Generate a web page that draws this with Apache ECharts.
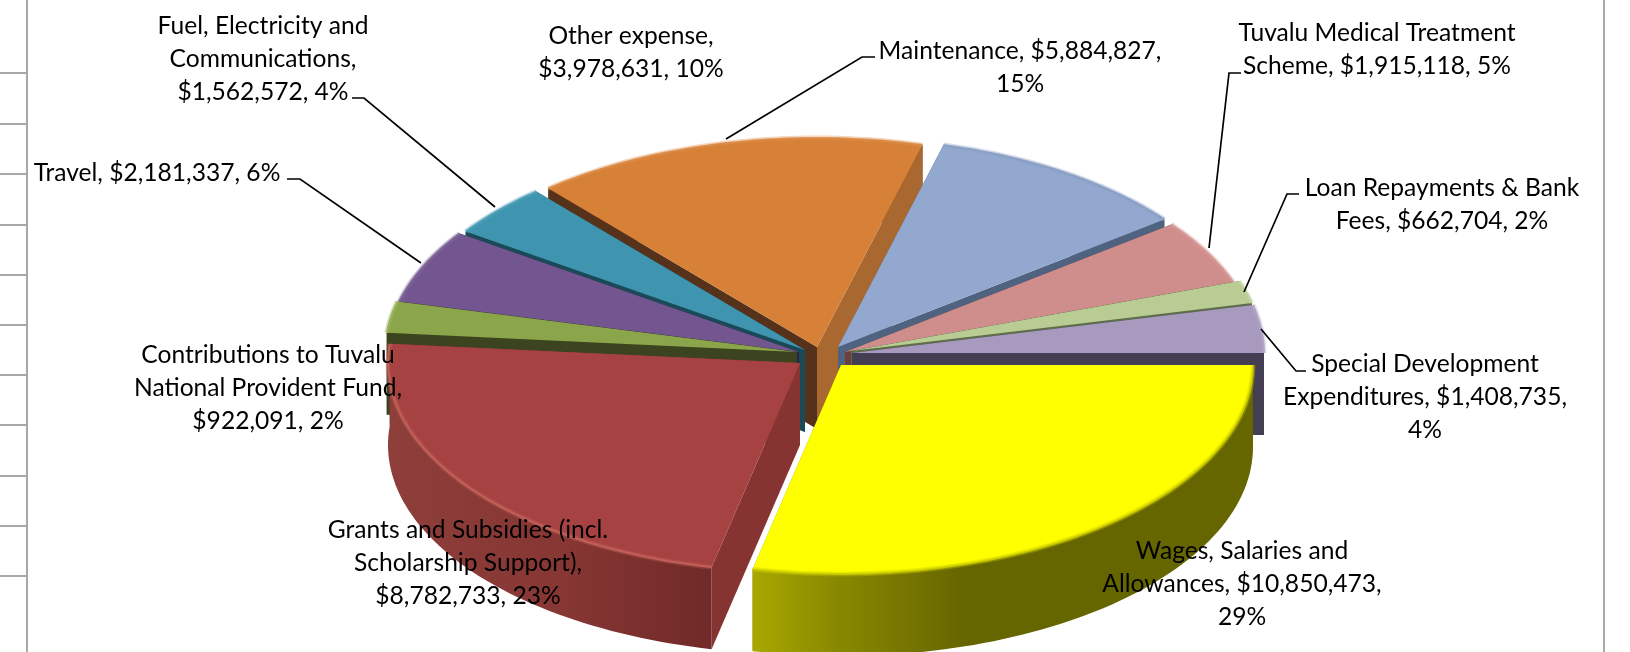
<!DOCTYPE html>
<html>
<head>
<meta charset="utf-8">
<style>html,body{margin:0;padding:0;background:#fff}#chart{width:1630px;height:652px}</style>
<script src="https://cdn.jsdelivr.net/npm/echarts@6/dist/echarts.min.js"></script>
</head>
<body>
<div id="chart"></div>
<script>
// Expenditure categories, clockwise from three o'clock.
const categories = ['Wages, Salaries and Allowances', 'Grants and Subsidies (incl. Scholarship Support)',
  'Contributions to Tuvalu National Provident Fund', 'Travel', 'Fuel, Electricity and Communications',
  'Maintenance', 'Other expense', 'Tuvalu Medical Treatment Scheme', 'Loan Repayments & Bank Fees',
  'Special Development Expenditures'];
const amounts = [10850473, 8782733, 922091, 2181337, 1562572, 5884827, 3978631, 1915118, 662704, 1408735];
const statedPercents = [29, 23, 2, 6, 4, 15, 10, 5, 2, 4];

// Label wording, one row of lines per label; {v} and {p} are filled from the arrays above.
const labelLines = [
  ['Wages, Salaries and', 'Allowances, {v},', '{p}'],
  ['Grants and Subsidies (incl.', 'Scholarship Support),', '{v}, {p}'],
  ['Contributions to Tuvalu', 'National Provident Fund,', '{v}, {p}'],
  ['Travel, {v}, {p}'],
  ['Fuel, Electricity and', 'Communications,', '{v}, {p}'],
  ['Maintenance, {v},', '{p}'],
  ['Other expense,', '{v}, {p}'],
  ['Tuvalu Medical Treatment', 'Scheme, {v}, {p}'],
  ['Loan Repayments & Bank', 'Fees, {v}, {p}'],
  ['Special Development', 'Expenditures, {v},', '{p}']
];

// Slice fills: top face, start wall, end wall, outer band.
const topColors = ['#ffff00', '#a64342', '#8ba64a', '#73568f', '#3f95af', '#d68038', '#92a8ce', '#cf8d8b', '#b8cc94', '#a89abe'];
const startWallColors = ['#8c8c00', '#863432', '#3c431f', '#2e2345', '#1a4a58', '#57321a', '#4f6280', '#6a4240', '#5f6e4a', '#443e52'];
const endWallColors = ['#8c8c00', '#863432', '#3c431f', '#2e2345', '#1a4a58', '#a9682f', '#4f6280', '#6a3f3e', '#5f6e4a', '#443e52'];
const rimColors = ['#cccc00', '#c4605a', '#9cb562', '#7f6699', '#4fa0b8', '#dd8c48', '#8a9fc4', '#d69a98', '#c2d3a2', '#b3a6c6'];

// Pie geometry: projected ellipse, wall height, and how far each slice is pulled out.
const pie = { cx: 825, cy: 350, rx: 412, ry: 209, depth: 82 };
const explodeX = [16, -25, -28, -26, -20, -8, 13, 20, 26, 27];
const explodeY = [15, 13, 2, 2, 0, -3, -3, 2, 1, 3];
// Painter's order, farthest slice first.
const drawOrder = [5, 6, 4, 3, 2, 7, 8, 9, 1, 0];

// Label anchors (centre of the first line) and leader polylines.
const labelX = [1242, 468, 268, 157, 263, 1020, 631, 1377, 1442, 1425];
const labelY = [551, 530, 355, 173, 26, 51, 36, 33, 188, 364];
const labelLineHeight = 33;
const labelFont = '400 24.6px Lato';
const leaders = [
  [[352, 98], [364, 98], [495, 207]],
  [[287, 179], [300, 179], [421, 263]],
  [[875, 57], [862, 57], [726, 139]],
  [[1241, 73], [1229, 73], [1209, 248]],
  [[1299, 194], [1287, 194], [1244, 292]],
  [[1306, 371], [1296, 371], [1261, 329]]
];

// Spreadsheet cell borders behind the chart.
const rowLines = [73, 124, 174, 225, 275, 325, 375, 425, 476, 526, 576];
const leftBorderX = 27;
const rightBorderX = 1604;

const total = amounts.reduce((a, b) => a + b, 0);
const startAngles = [];
amounts.reduce((acc, v, i) => { startAngles[i] = acc; return acc + v / total * 360; }, 0);

function money(v) { return '$' + v.toLocaleString('en-US'); }
function labelText(i) {
  return labelLines[i].map(s => s.replace('{v}', money(amounts[i])).replace('{p}', statedPercents[i] + '%')).join('\n');
}

function rimPoint(ox, oy, deg, dy) {
  const a = deg * Math.PI / 180;
  return [ox + pie.rx * Math.cos(a), oy + pie.ry * Math.sin(a) + (dy || 0)];
}
function arcPoints(ox, oy, a0, a1, dy) {
  const n = Math.max(4, Math.ceil((a1 - a0) / 1.5));
  const pts = [];
  for (let k = 0; k <= n; k++) pts.push(rimPoint(ox, oy, a0 + (a1 - a0) * k / n, dy));
  return pts;
}
function bandFill(i) {
  if (i === 0) {
    return new echarts.graphic.LinearGradient(0, 0, 1, 0, [
      { offset: 0, color: '#a8a800' }, { offset: 0.16, color: '#8a8a00' },
      { offset: 0.42, color: '#666600' }, { offset: 1, color: '#666600' }]);
  }
  if (i === 1) {
    return new echarts.graphic.LinearGradient(0, 0, 1, 0, [
      { offset: 0, color: '#8e3f3a' }, { offset: 0.55, color: '#863633' }, { offset: 1, color: '#702a28' }]);
  }
  return startWallColors[i];
}

function renderSlice(params, api) {
  const i = api.value(0);
  const a0 = startAngles[i];
  const a1 = a0 + api.value(1) / total * 360;
  const ox = pie.cx + explodeX[i];
  const oy = pie.cy + explodeY[i];
  const d = pie.depth;
  const arc = arcPoints(ox, oy, a0, a1);
  const low = arcPoints(ox, oy, a0, a1, d);
  const s0 = rimPoint(ox, oy, a0), e0 = rimPoint(ox, oy, a1);
  const poly = (points, fill) => ({ type: 'polygon', shape: { points }, style: { fill } });
  const walls = [
    poly([[ox, oy], s0, [s0[0], s0[1] + d], [ox, oy + d]], startWallColors[i]),
    poly([[ox, oy], e0, [e0[0], e0[1] + d], [ox, oy + d]], endWallColors[i])
  ];
  const band = poly(arc.concat(low.slice().reverse()), bandFill(i));
  // A slice facing the viewer shows its band over the cut walls; a far slice shows the walls instead.
  const facesFront = Math.sin((a0 + a1) / 2 * Math.PI / 180) > 0;
  const sides = facesFront ? walls.concat(band) : [band].concat(walls);
  const rim = (width, opacity) => ({
    type: 'polyline', shape: { points: arc },
    style: { fill: null, stroke: rimColors[i], lineWidth: width, opacity }
  });
  return {
    type: 'group',
    children: sides.concat([poly([[ox, oy]].concat(arc), topColors[i]), rim(5, 0.35), rim(2, 0.9)])
  };
}

function renderLabel(params, api) {
  const i = api.value(0);
  return {
    type: 'text',
    x: labelX[i],
    y: labelY[i] - labelLineHeight / 2,
    style: {
      text: labelText(i),
      font: labelFont,
      fill: '#000000',
      textAlign: 'center',
      textVerticalAlign: 'top',
      lineHeight: labelLineHeight
    }
  };
}

function renderLeader(params, api) {
  return {
    type: 'polyline',
    shape: { points: leaders[api.value(0)] },
    style: { fill: null, stroke: '#000000', lineWidth: 1.7 }
  };
}

const borderLines = rowLines.map(y => ({
  type: 'line', shape: { x1: 0, y1: y, x2: leftBorderX, y2: y }, style: { stroke: '#a8a8a8', lineWidth: 2 }
})).concat([leftBorderX, rightBorderX].map(x => ({
  type: 'line', shape: { x1: x, y1: 0, x2: x, y2: 652 }, style: { stroke: '#a8a8a8', lineWidth: 2 }
})));

const chart = echarts.init(document.getElementById('chart'), null, { renderer: 'canvas' });
chart.setOption({
  backgroundColor: '#ffffff',
  animation: false,
  graphic: { elements: borderLines },
  series: [
    {
      type: 'custom', name: 'Expenditure', coordinateSystem: 'none', silent: true, z: 2,
      renderItem: renderSlice,
      data: drawOrder.map(i => [i, amounts[i], categories[i]])
    },
    {
      type: 'custom', name: 'Leaders', coordinateSystem: 'none', silent: true, z: 3,
      renderItem: renderLeader,
      data: leaders.map((_, i) => [i])
    },
    {
      type: 'custom', name: 'Labels', coordinateSystem: 'none', silent: true, z: 4,
      renderItem: renderLabel,
      data: categories.map((_, i) => [i])
    }
  ]
});
</script>
</body>
</html>
